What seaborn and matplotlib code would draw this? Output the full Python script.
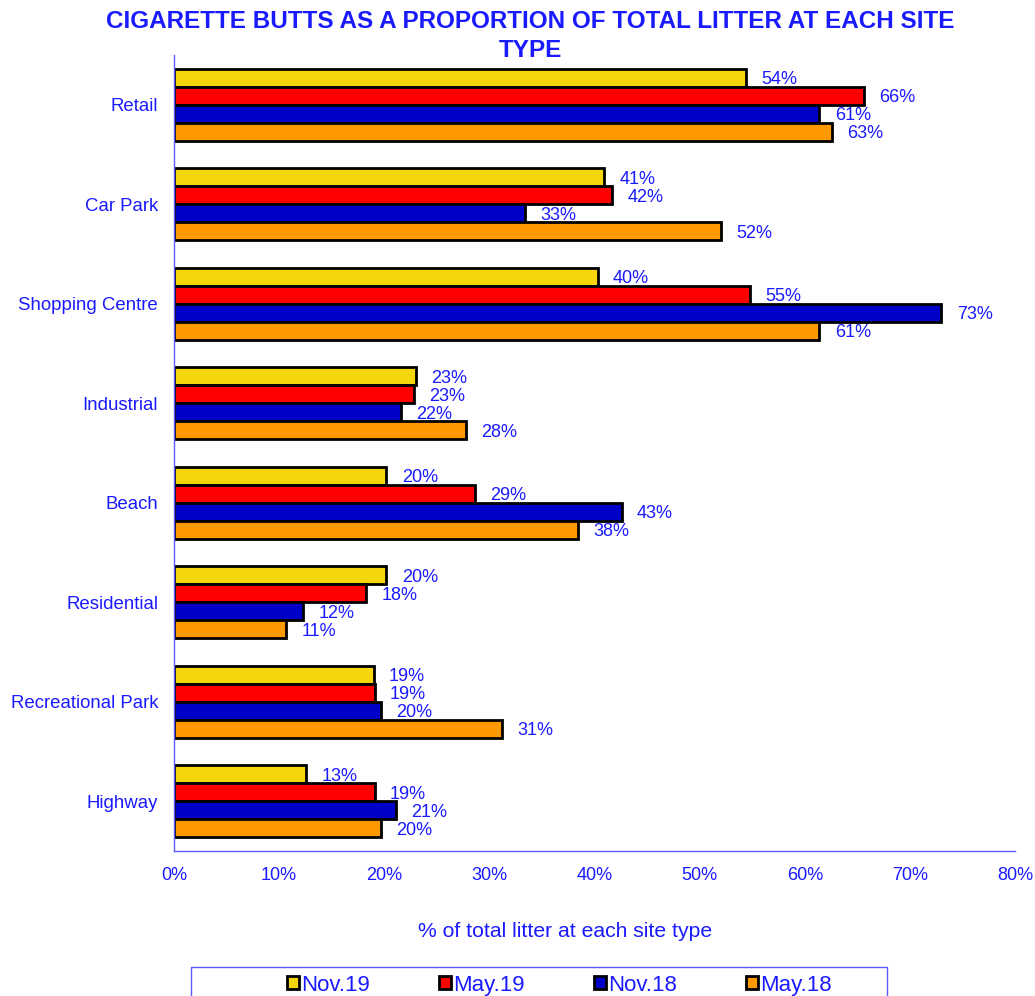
import matplotlib
matplotlib.use("Agg")
import matplotlib.pyplot as plt
import seaborn as sns
import pandas as pd
from matplotlib.patches import Patch, Rectangle
from matplotlib.ticker import PercentFormatter, FixedLocator

categories = ["Retail", "Car Park", "Shopping Centre", "Industrial", "Beach",
              "Residential", "Recreational Park", "Highway"]
series = ["Nov.19", "May.19", "Nov.18", "May.18"]
nov19 = [54.4, 40.9, 40.3, 23.0, 20.2, 20.2, 19.0, 12.6]
may19 = [65.6, 41.7, 54.8, 22.8, 28.6, 18.3, 19.1, 19.1]
nov18 = [61.4, 33.4, 73.0, 21.6, 42.6, 12.3, 19.7, 21.1]
may18 = [62.6, 52.0, 61.4, 27.8, 38.4, 10.7, 31.2, 19.7]
colors = ["#F5D60A", "#FF0000", "#0000C8", "#FF9900"]

values = [nov19, may19, nov18, may18]
rows = []
for s, vals in zip(series, values):
    for c, v in zip(categories, vals):
        rows.append({"site": c, "series": s, "value": v})
df = pd.DataFrame(rows)

sns.set_style("white")
plt.rcParams["font.family"] = ["Liberation Sans", "DejaVu Sans"]
BLUE = "#1a1aff"
AXC = "#5a5aff"

fig = plt.figure(figsize=(10.35, 9.96), dpi=100)
ax = fig.add_axes([174 / 1035, 1 - 851 / 996, (1015 - 174) / 1035, (851 - 55) / 996])

sns.barplot(data=df, y="site", x="value", hue="series", order=categories,
            hue_order=series, palette=colors, orient="h", width=0.72,
            edgecolor="black", linewidth=2, saturation=1, ax=ax, legend=False)

for cont, vals in zip(ax.containers, values):
    texts = ax.bar_label(cont, labels=[f"{v:.0f}%" for v in vals], padding=11,
                         color=BLUE, fontsize=13)
    for t in texts:
        t.xyann = (11, -1.5)

ax.set_xlim(0, 80)
ax.set_ylim(len(categories) - 0.5, -0.5)
ax.xaxis.set_major_formatter(PercentFormatter(xmax=100, decimals=0))
ax.set_xticks(range(0, 81, 10))
ax.set_xlabel("")
ax.set_ylabel("")
ax.yaxis.set_minor_locator(FixedLocator([i - 0.5 for i in range(len(categories) + 1)]))
ax.tick_params(axis="y", which="major", length=0, pad=11.5, labelsize=13.4, labelcolor=BLUE)
ax.tick_params(axis="y", which="minor", length=7, direction="inout", color=AXC, width=1)
ax.tick_params(axis="x", which="major", length=7, direction="inout", color=AXC,
               width=1, pad=8, labelsize=13, labelcolor=BLUE)
for side in ["top", "right"]:
    ax.spines[side].set_visible(False)
for side in ["left", "bottom"]:
    ax.spines[side].set_color(AXC)
    ax.spines[side].set_linewidth(1)

fig.text(530 / 1035, 1 - 36 / 996,
         "CIGARETTE BUTTS AS A PROPORTION OF TOTAL LITTER AT EACH SITE\nTYPE",
         ha="center", va="center", fontsize=17.5, fontweight="bold", color=BLUE,
         linespacing=1.3)
fig.text(565 / 1035, 1 - 931 / 996, "% of total litter at each site type",
         ha="center", va="center", fontsize=15.2, color=BLUE)

fig.add_artist(Rectangle((191 / 1035, -0.05), (887 - 191) / 1035, 0.05 + (996 - 967) / 996,
                         transform=fig.transFigure, facecolor="white",
                         edgecolor=AXC, linewidth=1))

handles = [Patch(facecolor=c, edgecolor="black", linewidth=2) for c in colors]
leg = fig.legend(handles, series, loc="center left", ncol=4,
                 bbox_to_anchor=(287 / 1035, 1 - 985 / 996), frameon=False,
                 fontsize=16, handlelength=0.55, handleheight=0.55, handletextpad=0.1,
                 columnspacing=3.1, borderpad=0.0, borderaxespad=0.0,
                 labelcolor=BLUE)

fig.savefig("out.png", dpi=100)
